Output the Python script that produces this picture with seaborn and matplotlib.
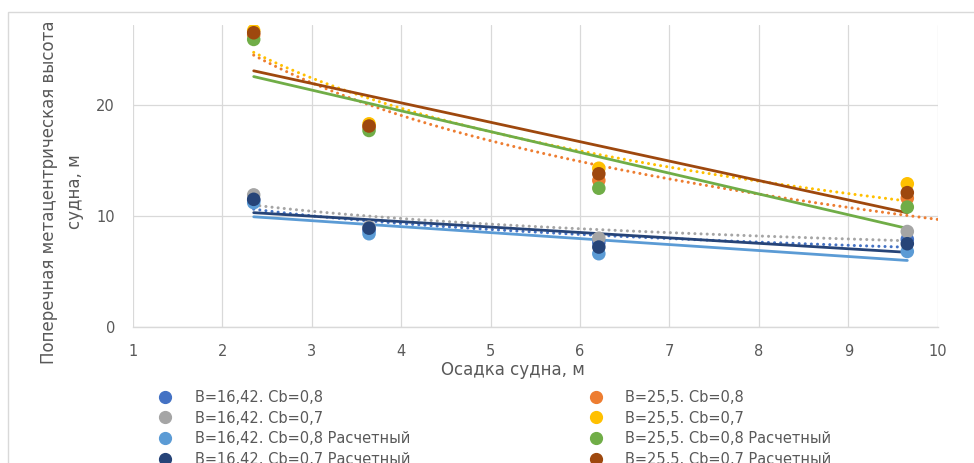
import numpy as np
import pandas as pd
import matplotlib
matplotlib.use("Agg")
import matplotlib.pyplot as plt
import seaborn as sns
from matplotlib.lines import Line2D
from matplotlib.patches import Rectangle

# Осадка судна, м
draft = [2.35, 3.64, 6.21, 9.66]

# Поперечная метацентрическая высота, м
b16_cb08 = [11.4, 8.7, 7.6, 7.9]
b16_cb07 = [11.9, 9.0, 8.0, 8.6]
b16_cb08_calc = [11.2, 8.4, 6.6, 6.8]
b16_cb07_calc = [11.5, 8.9, 7.2, 7.5]
b25_cb08 = [26.3, 18.0, 13.2, 11.6]
b25_cb07 = [26.7, 18.3, 14.3, 12.9]
b25_cb08_calc = [25.9, 17.7, 12.5, 10.8]
b25_cb07_calc = [26.5, 18.1, 13.8, 12.1]

labels = [
    "B=16,42. Cb=0,8",
    "B=16,42. Cb=0,7",
    "B=16,42. Cb=0,8 Расчетный",
    "B=16,42. Cb=0,7 Расчетный",
    "B=25,5. Cb=0,8",
    "B=25,5. Cb=0,7",
    "B=25,5. Cb=0,8 Расчетный",
    "B=25,5. Cb=0,7 Расчетный",
]
values = [b16_cb08, b16_cb07, b16_cb08_calc, b16_cb07_calc,
          b25_cb08, b25_cb07, b25_cb08_calc, b25_cb07_calc]
colors = ["#4472C4", "#A5A5A5", "#5B9BD5", "#264478",
          "#ED7D31", "#FFC000", "#70AD47", "#9E480E"]
# trend type per series: logarithmic (dotted) for measured, linear (solid) for calculated
trend = ["log", "log", "lin", "lin", "log", "log", "lin", "lin"]
forecast = [0, 0, 0, 0, 0.34, 0, 0, 0]

df = pd.DataFrame({
    "x": np.tile(draft, len(labels)),
    "y": np.concatenate(values),
    "series": np.repeat(labels, len(draft)),
})

sns.set_theme(style="white")
plt.rcParams["font.family"] = ["DejaVu Sans"]
text_col = "#595959"
grid_col = "#D9D9D9"

fig = plt.figure(figsize=(9.74, 4.63), dpi=100)
ax = fig.add_axes([133 / 974, 1 - 327 / 463, (937.7 - 133) / 974, (327 - 25) / 463])

# chart frame
fig.patches.append(Rectangle((8 / 974, -0.2), 1.2, 1.2 - 12 / 463, transform=fig.transFigure,
                             fill=False, ec=grid_col, lw=1.0, clip_on=False))

# trendlines
xa = np.array(draft)
for vals, col, kind, fwd in zip(values, colors, trend, forecast):
    ya = np.array(vals)
    xs = np.linspace(xa.min(), xa.max() + fwd, 200)
    if kind == "log":
        a, b = np.polyfit(np.log(xa), ya, 1)
        ys = a * np.log(xs) + b
        ax.plot(xs, ys, color=col, lw=2.2, linestyle=(0, (0.01, 2.0)),
                dash_capstyle="round", zorder=2)
    else:
        a, b = np.polyfit(xa, ya, 1)
        ys = a * xs + b
        ax.plot(xs, ys, color=col, lw=2.0, zorder=2)

sns.scatterplot(data=df, x="x", y="y", hue="series", hue_order=labels,
                palette=dict(zip(labels, colors)), s=95, linewidth=0,
                legend=False, ax=ax, zorder=3)

ax.set_xlim(1, 10)
ax.set_ylim(0, 27.2)
ax.set_xticks(range(1, 11))
ax.set_yticks([0, 10, 20])
ax.grid(True, color=grid_col, lw=0.9)
ax.set_axisbelow(True)
for side in ["top", "right", "left"]:
    ax.spines[side].set_visible(False)
ax.spines["bottom"].set_color(grid_col)
ax.spines["bottom"].set_linewidth(1.0)
ax.tick_params(axis="x", length=0, pad=12, labelsize=10.5, labelcolor=text_col)
ax.tick_params(axis="y", length=0, pad=13, labelsize=10.5, labelcolor=text_col)

ax.set_xlabel("Осадка судна, м", fontsize=12, color=text_col, va="center")
ax.xaxis.set_label_coords((513 - 133) / 804.7, (327 - 370) / 302)
ax.set_ylabel("Поперечная метацентрическая высота\nсудна, м", fontsize=12,
              color=text_col, va="center", linespacing=1.6)
ax.yaxis.set_label_coords((62 - 133) / 804.7, (327 - 192) / 302)

handles = [Line2D([], [], ls="none", marker="o", markersize=8.5, color=c, mec=c)
           for c in colors]
fig.legend(handles, labels, loc="upper left", ncol=2,
           bbox_to_anchor=(157.7 / 974, 1 - 390 / 463), frameon=False,
           borderpad=0, borderaxespad=0, handlelength=1.0, handletextpad=1.55,
           labelspacing=0.38, columnspacing=12.2, fontsize=10.5,
           labelcolor=text_col)

fig.savefig("out.png", dpi=100)
